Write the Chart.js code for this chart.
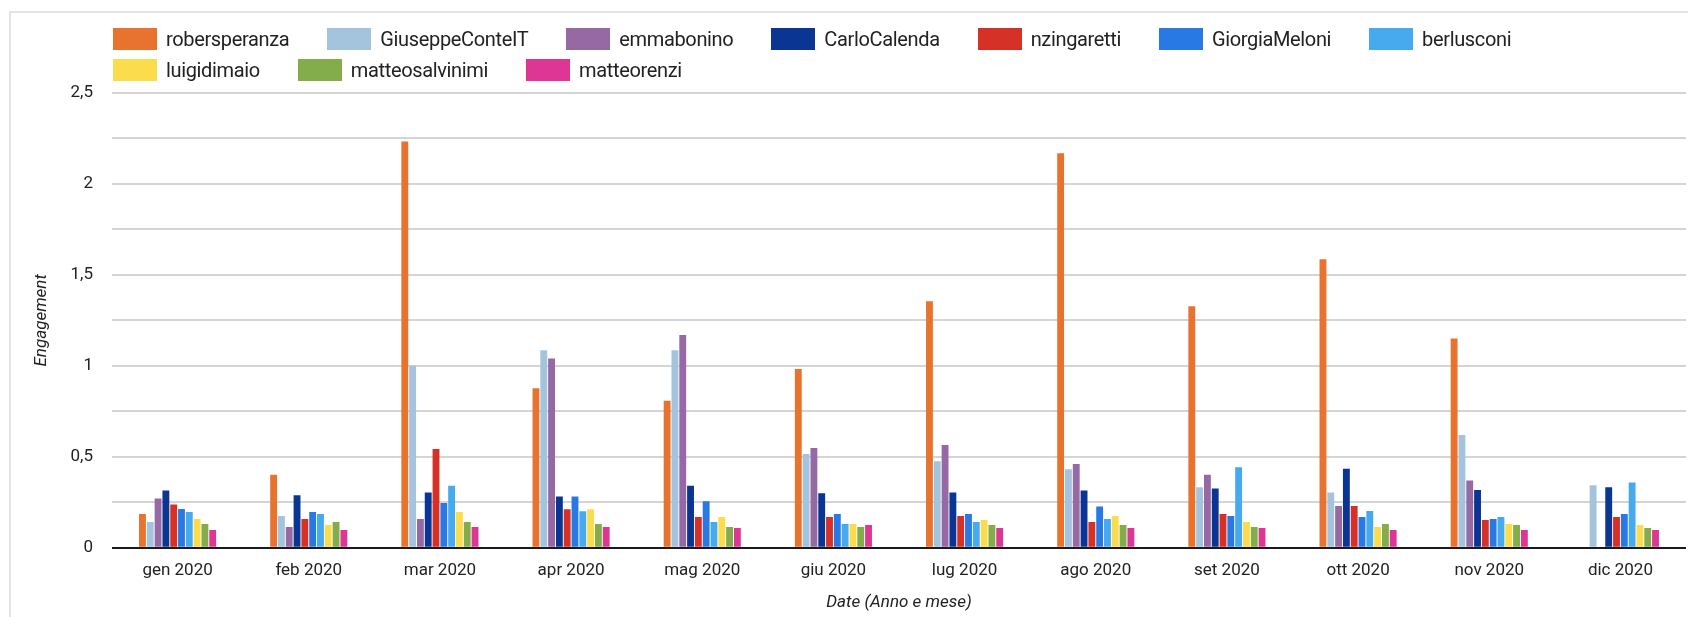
<!DOCTYPE html>
<html>
<head>
<meta charset="utf-8">
<script src="https://cdn.jsdelivr.net/npm/chart.js@4.4.1/dist/chart.umd.min.js"></script>
<style>
  html, body { margin: 0; padding: 0; background: #fff; }
  #wrap { position: relative; width: 1688px; height: 617px; overflow: hidden; }
  #c { position: absolute; left: 0; top: 0; }
  #legend { position: absolute; left: 113px; top: 28px; width: 1570px; display: flex; flex-wrap: wrap; row-gap: 9px;
            font-family: Roboto, "Noto Sans", sans-serif; font-size: 20px; letter-spacing: -0.35px; color: #222; }
  .li { display: flex; align-items: center; margin-right: 38px; height: 22px; white-space: nowrap; }
  .sw { width: 44px; height: 22px; margin-right: 9px; }
</style>
</head>
<body>
<div id="wrap">
  <canvas id="c" width="1688" height="617"></canvas>
  <div id="legend"></div>
</div>
<script>
const categories = ['gen 2020','feb 2020','mar 2020','apr 2020','mag 2020','giu 2020','lug 2020','ago 2020','set 2020','ott 2020','nov 2020','dic 2020'];
const seriesNames = ['robersperanza','GiuseppeConteIT','emmabonino','CarloCalenda','nzingaretti','GiorgiaMeloni','berlusconi','luigidimaio','matteosalvinimi','matteorenzi'];
const seriesColors = ['#E8732F','#A4C4DE','#9669A5','#0A3592','#D63126','#2979E5','#47A9EE','#FBDC4C','#82AD4A','#DE3694'];

const robersperanza   = [0.185, 0.401, 2.233, 0.877, 0.808, 0.982, 1.355, 2.169, 1.328, 1.586, 1.150, null];
const GiuseppeConteIT = [0.141, 0.174, 1.000, 1.085, 1.085, 0.515, 0.476, 0.432, 0.332, 0.304, 0.619, 0.343];
const emmabonino      = [0.271, 0.114, 0.158, 1.040, 1.170, 0.548, 0.564, 0.460, 0.401, 0.229, 0.370, null];
const CarloCalenda    = [0.315, 0.288, 0.304, 0.282, 0.341, 0.299, 0.304, 0.315, 0.326, 0.434, 0.317, 0.332];
const nzingaretti     = [0.238, 0.158, 0.542, 0.211, 0.169, 0.169, 0.174, 0.141, 0.185, 0.229, 0.152, 0.169];
const GiorgiaMeloni   = [0.213, 0.196, 0.246, 0.282, 0.255, 0.185, 0.185, 0.227, 0.174, 0.169, 0.158, 0.185];
const berlusconi      = [0.196, 0.185, 0.341, 0.200, 0.141, 0.130, 0.141, 0.158, 0.443, 0.202, 0.169, 0.359];
const luigidimaio     = [0.158, 0.125, 0.196, 0.211, 0.169, 0.130, 0.152, 0.174, 0.141, 0.114, 0.130, 0.125];
const matteosalvinimi = [0.130, 0.141, 0.141, 0.130, 0.114, 0.114, 0.125, 0.125, 0.114, 0.130, 0.125, 0.108];
const matteorenzi     = [0.097, 0.097, 0.114, 0.114, 0.108, 0.125, 0.108, 0.108, 0.108, 0.097, 0.097, 0.097];

const yTickValues = [0, 0.5, 1, 1.5, 2, 2.5];
const yTickLabels = ['0', '0,5', '1', '1,5', '2', '2,5'];
const yAxisTitle = 'Engagement';
const xAxisTitle = 'Date (Anno e mese)';

const seriesValues = [robersperanza, GiuseppeConteIT, emmabonino, CarloCalenda, nzingaretti, GiorgiaMeloni, berlusconi, luigidimaio, matteosalvinimi, matteorenzi];

const datasets = seriesNames.map((name, i) => ({
  label: name,
  data: seriesValues[i],
  backgroundColor: seriesColors[i],
  borderWidth: 0,
  categoryPercentage: 0.595,
  barPercentage: 0.88
}));

// HTML legend
const legendEl = document.getElementById('legend');
seriesNames.forEach((name, i) => {
  const item = document.createElement('div');
  item.className = 'li';
  const sw = document.createElement('span');
  sw.className = 'sw';
  sw.style.background = seriesColors[i];
  const tx = document.createElement('span');
  tx.textContent = name;
  item.appendChild(sw);
  item.appendChild(tx);
  legendEl.appendChild(item);
});

const framePlugin = {
  id: 'frame',
  beforeDraw(chart) {
    const ctx = chart.ctx;
    ctx.save();
    ctx.fillStyle = '#ffffff';
    ctx.fillRect(0, 0, chart.width, chart.height);
    ctx.strokeStyle = '#e4e4e4';
    ctx.lineWidth = 2;
    ctx.beginPath();
    ctx.moveTo(10, chart.height);
    ctx.lineTo(10, 12);
    ctx.lineTo(chart.width, 12);
    ctx.stroke();
    ctx.restore();
  }
};

const FONT = 'Roboto, "Noto Sans", sans-serif';

new Chart(document.getElementById('c'), {
  type: 'bar',
  data: { labels: categories, datasets },
  plugins: [framePlugin],
  options: {
    responsive: false,
    animation: false,
    layout: { padding: { top: 93, left: 0, right: 2, bottom: 0 } },
    plugins: { legend: { display: false }, tooltip: { enabled: false } },
    scales: {
      x: {
        grid: { display: false, drawTicks: false },
        border: { display: false },
        ticks: { color: '#222', font: { family: FONT, size: 17 }, padding: 13, maxRotation: 0 },
        title: { display: true, text: xAxisTitle, color: '#222', font: { family: FONT, size: 17, style: 'italic' }, padding: { top: 4, bottom: 4 } },
        afterFit(scale) { scale.height = 69.3; }
      },
      y: {
        min: 0, max: 2.5,
        grid: {
          drawTicks: false,
          lineWidth: 2,
          color: (c) => (c.tick && c.tick.value === 0) ? '#1a1a1a' : '#d4d4d4'
        },
        border: { display: false },
        ticks: {
          stepSize: 0.25,
          padding: 19,
          color: '#222',
          font: { family: FONT, size: 17 },
          callback: (v) => {
            const idx = yTickValues.findIndex(t => Math.abs(t - v) < 1e-9);
            return idx >= 0 ? yTickLabels[idx] : '';
          }
        },
        title: { display: true, text: yAxisTitle, color: '#222', font: { family: FONT, size: 17, style: 'italic' }, padding: { top: 32, bottom: 4 } },
        afterFit(scale) { scale.width = 112; }
      }
    }
  }
});
</script>
</body>
</html>
